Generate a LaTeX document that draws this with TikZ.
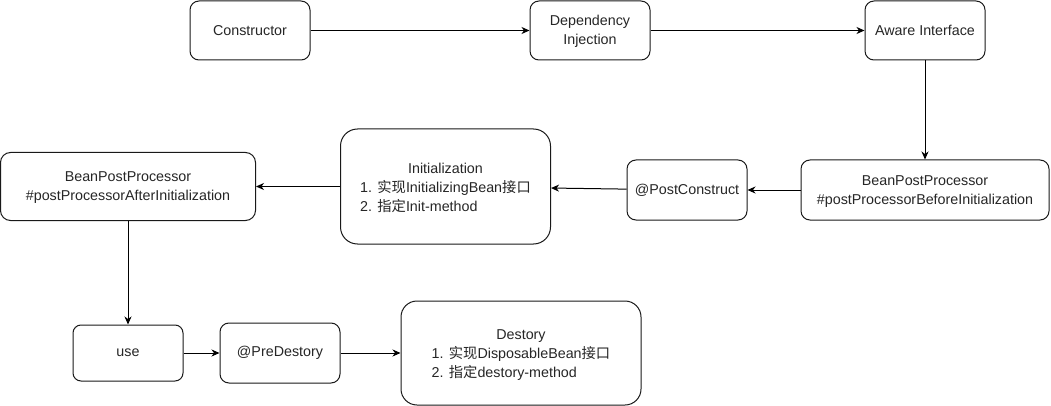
\documentclass[tikz,border=0pt]{standalone}
\usepackage{fontspec}
\setmainfont{Liberation Sans}
\newfontfamily\cjk{Noto Sans CJK SC}
\usetikzlibrary{arrows.meta}
\begin{document}
\begin{tikzpicture}[x=1pt,y=-1pt,
  box/.style={draw=black!90, line width=1pt, fill=white, inner sep=0pt, align=center,
    text=black!85, font=\fontsize{14.3}{19}\selectfont},
  arr/.style={draw=black, line width=1pt, -{Stealth[length=8pt,width=7pt,inset=2.5pt]}}
]
\useasboundingbox (0,0) rectangle (1051,406);

\node[box, minimum width=120, minimum height=59, rounded corners=9] (ctor) at (250,30.5) {Constructor};
\node[box, minimum width=120, minimum height=59, rounded corners=9] (di) at (590,30.5) {\rule{0pt}{12pt}Dependency\\Injection};
\node[box, minimum width=120, minimum height=59, rounded corners=9] (aware) at (925,30.5) {Aware Interface};
\node[box, minimum width=248, minimum height=60, rounded corners=9] (bppb) at (925,190) {\rule{0pt}{12pt}BeanPostProcessor\\\#postProcessorBeforeInitialization};
\node[box, minimum width=120, minimum height=60, rounded corners=9] (pc) at (687,190) {@PostConstruct};
\node[box, minimum width=210, minimum height=115, rounded corners=17] (init) at (445.5,186.5)
  {\rule{0pt}{17pt}Initialization\\\begin{tabular}[t]{@{}l@{}}1. {\cjk 实现}InitializingBean{\cjk 接口}\\2. {\cjk 指定}Init-method\end{tabular}};
\node[box, minimum width=255, minimum height=68, rounded corners=10] (bppa) at (128,186.5) {\rule{0pt}{12pt}BeanPostProcessor\\\#postProcessorAfterInitialization};
\node[box, minimum width=110, minimum height=56, rounded corners=8] (use) at (128,353) {use};
\node[box, minimum width=120, minimum height=60, rounded corners=9] (pred) at (280,353) {@PreDestory};
\node[box, minimum width=240, minimum height=104, rounded corners=16] (dest) at (521,353)
  {\rule{0pt}{17pt}Destory\\\begin{tabular}[t]{@{}l@{}}1. {\cjk 实现}DisposableBean{\cjk 接口}\\2. {\cjk 指定}destory-method\end{tabular}};

\draw[arr] (ctor) -- (di);
\draw[arr] (di) -- (aware);
\draw[arr] (aware) -- (bppb);
\draw[arr] (bppb) -- (pc);
\draw[arr] (pc) -- (init);
\draw[arr] (init.west) -- (bppa.east |- init.west);
\draw[arr] (bppa) -- (use);
\draw[arr] (use) -- (pred);
\draw[arr] (pred) -- (dest);
\end{tikzpicture}
\end{document}
